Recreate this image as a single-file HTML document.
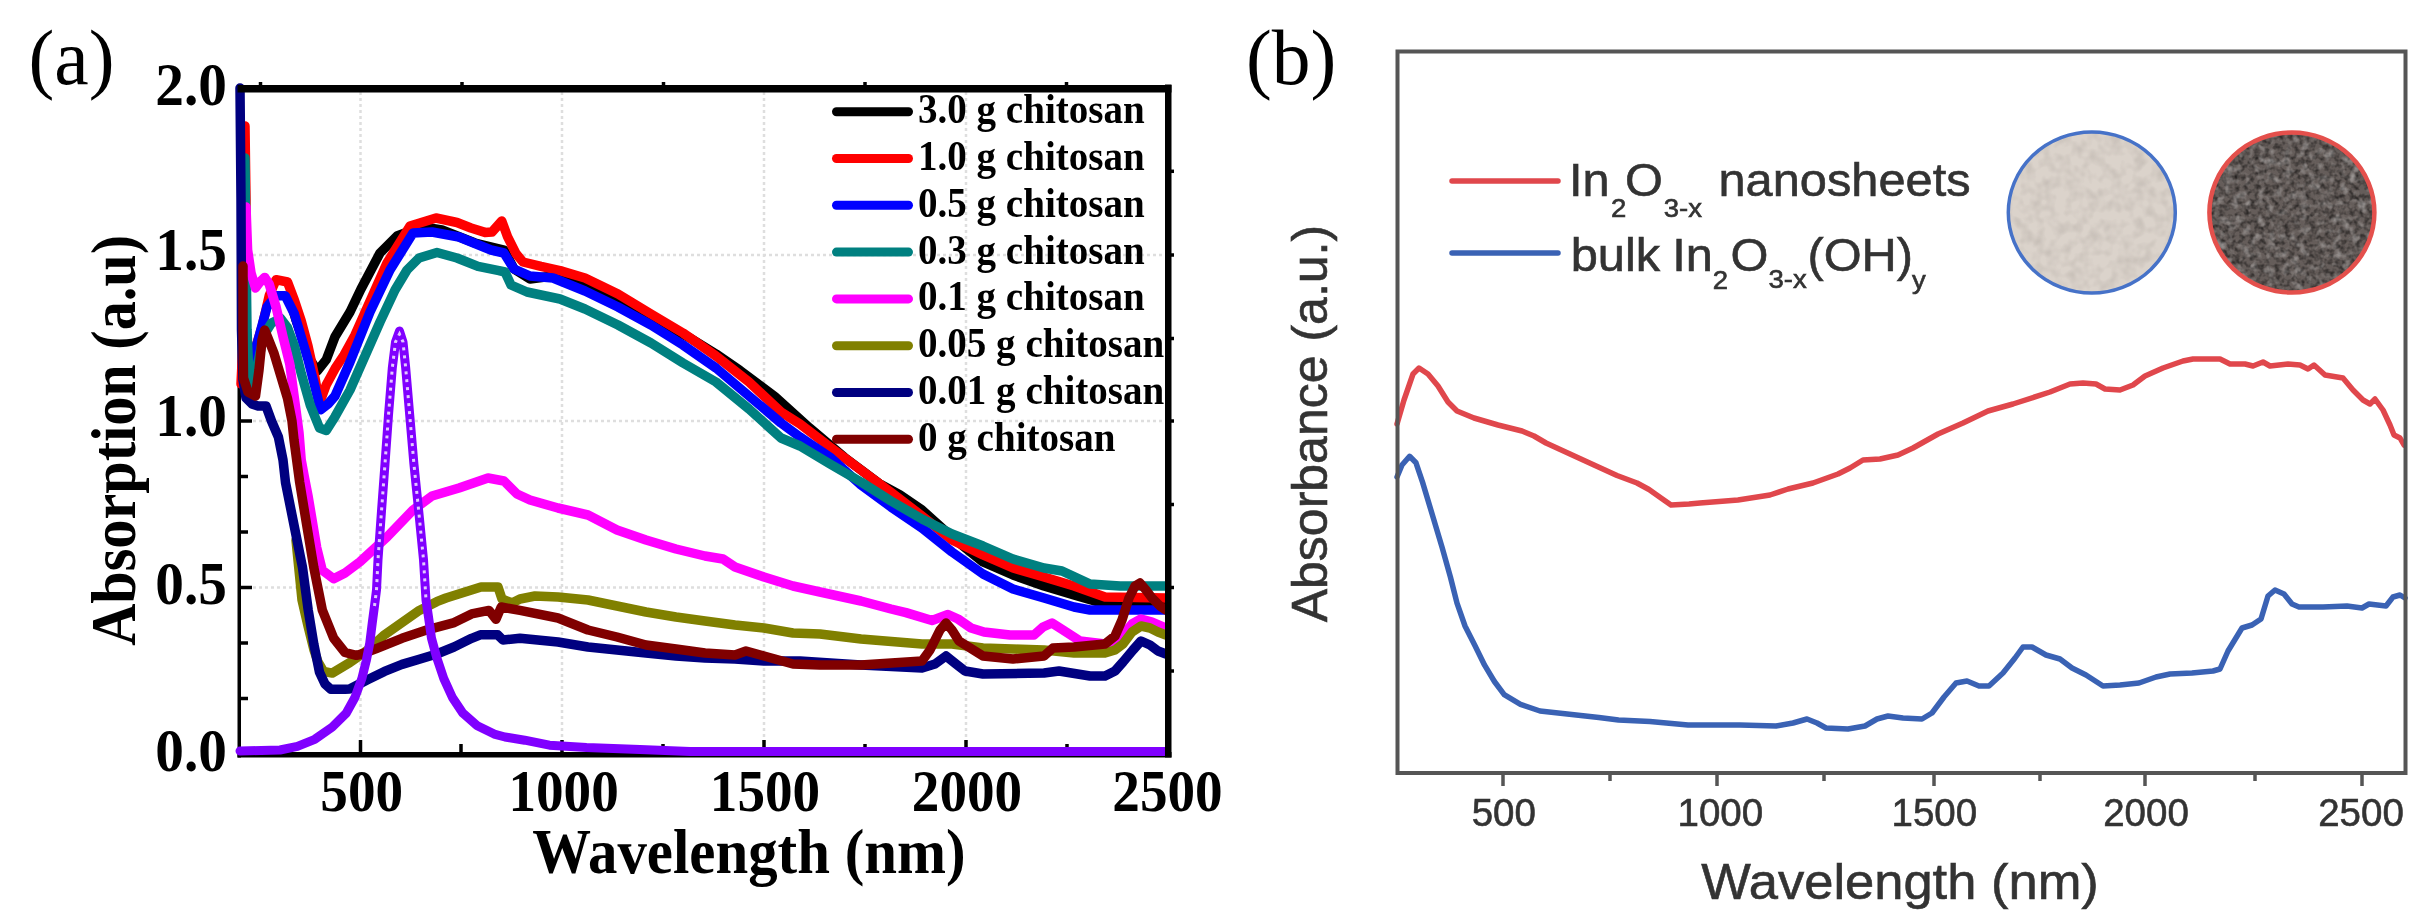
<!DOCTYPE html><html><head><meta charset="utf-8"><title>Absorption spectra</title><style>html,body{margin:0;padding:0;background:#fff;}svg{display:block;filter:blur(0.6px);}</style></head><body><svg width="2429" height="919" viewBox="0 0 2429 919">
<rect x="0" y="0" width="2429" height="919" fill="#fff"/>
<g stroke="#dedede" stroke-width="2.5" stroke-dasharray="3 3" fill="none">
<line x1="360.5" y1="92" x2="360.5" y2="752"/>
<line x1="562" y1="92" x2="562" y2="752"/>
<line x1="764" y1="92" x2="764" y2="752"/>
<line x1="966" y1="92" x2="966" y2="752"/>
<line x1="241" y1="255" x2="1165" y2="255"/>
<line x1="241" y1="421" x2="1165" y2="421"/>
<line x1="241" y1="587.5" x2="1165" y2="587.5"/>
</g>
<g fill="#000">
<rect x="237.5" y="84.5" width="3.5" height="673"/>
<rect x="237.5" y="752" width="934" height="5.5"/>
</g>
<g stroke="#000" stroke-width="3.5">
<line x1="360.5" y1="753" x2="360.5" y2="740"/>
<line x1="562" y1="753" x2="562" y2="740"/>
<line x1="764" y1="753" x2="764" y2="740"/>
<line x1="966" y1="753" x2="966" y2="740"/>
<line x1="461" y1="753" x2="461" y2="744"/>
<line x1="663" y1="753" x2="663" y2="744"/>
<line x1="865" y1="753" x2="865" y2="744"/>
<line x1="1067" y1="753" x2="1067" y2="744"/>
<line x1="239" y1="255" x2="252" y2="255"/>
<line x1="239" y1="421" x2="252" y2="421"/>
<line x1="239" y1="587.5" x2="252" y2="587.5"/>
<line x1="239" y1="143.5" x2="248" y2="143.5"/>
<line x1="239" y1="199.0" x2="248" y2="199.0"/>
<line x1="239" y1="310.0" x2="248" y2="310.0"/>
<line x1="239" y1="365.5" x2="248" y2="365.5"/>
<line x1="239" y1="476.5" x2="248" y2="476.5"/>
<line x1="239" y1="532.0" x2="248" y2="532.0"/>
<line x1="239" y1="643.0" x2="248" y2="643.0"/>
<line x1="239" y1="698.5" x2="248" y2="698.5"/>
</g>
<g fill="none" stroke-width="9.5" stroke-linejoin="round" stroke-linecap="round">
<polyline stroke="#000000" points="290.0,300.0 296.0,320.0 303.0,340.0 310.3,359.6 317.2,371.0 326.3,359.6 335.0,336.8 350.0,312.0 361.0,289.0 380.0,253.0 397.0,236.0 413.0,230.0 423.0,227.0 442.0,230.0 475.0,243.0 504.0,250.0 514.0,269.0 530.0,279.0 553.0,276.0 585.0,286.0 618.0,300.0 651.0,318.0 690.0,338.0 716.0,354.0 740.0,370.5 774.8,396.5 809.6,428.0 844.5,457.5 879.3,483.6 900.0,495.0 922.0,510.0 952.0,537.0 983.0,562.0 1013.0,575.0 1044.0,586.0 1074.0,595.0 1105.0,604.0 1166.0,605.0"/>
<polyline stroke="#ff0000" points="245.0,126.0 246.0,200.0 245.0,300.0 241.0,384.0 248.0,372.0 255.0,350.0 262.4,325.3 269.2,295.7 276.1,279.7 287.5,282.0 294.4,300.2 301.2,320.8 308.0,346.0 315.0,378.0 319.5,403.0 326.3,384.7 335.0,368.7 344.0,355.0 355.0,335.0 367.0,308.0 387.0,263.0 410.0,226.0 436.0,218.0 457.0,222.5 471.0,228.0 485.0,232.4 492.0,232.0 501.8,221.0 507.5,236.7 516.0,253.6 523.0,262.0 541.0,266.4 560.0,270.6 585.0,278.0 618.0,294.0 651.0,314.0 683.0,333.0 716.0,356.0 749.0,382.0 781.0,412.0 800.0,424.0 830.0,447.0 861.0,470.0 892.0,493.0 922.0,516.0 952.0,540.0 983.0,555.0 1013.0,568.0 1044.0,577.0 1074.0,586.0 1105.0,597.0 1166.0,598.0"/>
<polyline stroke="#0000ff" points="244.0,300.0 248.0,350.0 252.0,360.0 257.8,341.3 267.0,307.0 276.1,295.7 285.2,295.7 294.4,314.0 301.2,336.8 308.0,359.6 315.0,387.0 320.6,409.8 328.0,404.0 335.0,396.0 350.0,362.0 370.0,312.0 390.0,270.0 413.0,233.0 432.0,232.0 459.0,237.0 491.0,250.0 504.0,253.0 514.0,269.0 530.0,276.0 553.0,278.0 585.0,291.0 618.0,307.0 651.0,325.0 683.0,345.0 716.0,368.0 749.0,396.0 781.0,423.0 800.0,437.0 831.0,458.0 861.0,485.0 891.0,507.0 922.0,528.0 952.0,552.0 983.0,574.0 1013.0,589.0 1044.0,598.0 1074.0,607.0 1090.0,610.0 1166.0,610.0"/>
<polyline stroke="#008080" points="245.0,158.0 246.0,250.0 247.0,330.0 249.0,378.0 253.0,388.0 258.0,362.0 264.0,335.0 271.5,323.0 280.7,318.5 287.5,327.6 294.4,345.9 301.2,373.3 310.3,405.3 319.5,428.0 326.3,430.4 335.0,416.7 350.0,390.0 365.0,356.0 380.0,322.0 395.0,290.0 407.0,270.0 419.0,258.0 437.0,252.5 457.0,258.0 478.0,266.4 499.0,270.6 505.0,272.0 511.0,285.0 527.0,292.0 560.0,299.0 585.0,309.0 618.0,325.0 651.0,343.0 683.0,363.0 716.0,382.0 749.0,409.0 781.0,438.0 800.0,446.0 830.0,464.0 861.0,482.0 891.0,501.0 922.0,519.0 952.0,534.0 983.0,546.0 1013.0,559.0 1044.0,568.0 1062.0,571.0 1090.0,584.0 1120.0,586.0 1166.0,586.0"/>
<polyline stroke="#ff00ff" points="246.0,207.0 247.6,250.0 251.0,272.8 255.5,288.0 260.0,282.0 264.7,277.4 269.2,284.2 276.1,307.0 283.0,336.8 289.8,364.2 294.4,398.4 299.0,432.6 301.2,459.8 304.0,475.0 308.2,496.7 316.7,547.6 322.3,570.3 333.7,578.8 345.0,573.0 360.0,561.8 387.0,537.0 413.0,510.0 432.0,496.0 459.0,488.0 488.0,478.0 504.0,481.0 517.0,494.0 530.0,500.0 558.0,508.0 588.0,515.0 617.0,530.0 646.0,540.0 676.0,549.0 705.0,556.0 723.0,559.0 735.0,567.0 764.0,577.0 793.0,586.0 820.0,592.0 861.0,601.0 891.0,609.0 906.0,612.6 932.0,620.5 948.0,614.5 958.0,619.0 971.0,628.0 984.0,632.0 1010.0,635.0 1034.0,635.0 1043.0,627.0 1052.0,623.0 1063.0,630.0 1080.0,641.0 1105.0,644.0 1120.0,638.0 1132.0,624.0 1141.0,619.0 1152.0,622.0 1166.0,628.0"/>
<polyline stroke="#808000" points="296.0,540.0 302.0,600.0 308.0,626.0 314.0,650.0 318.0,662.0 323.5,671.4 332.2,673.1 349.7,662.7 367.1,650.5 384.5,634.8 401.9,622.6 419.3,610.4 436.7,601.7 446.0,598.0 481.0,587.0 498.0,587.0 502.0,599.0 512.0,603.0 520.0,599.0 535.0,596.0 558.0,597.0 588.0,600.0 617.0,606.0 646.0,612.0 676.0,617.0 705.0,621.0 735.0,625.0 764.0,628.0 793.0,633.0 820.0,634.0 861.0,639.0 922.0,644.0 952.0,644.0 983.0,648.0 1044.0,650.0 1074.0,653.0 1105.0,653.0 1115.0,650.0 1123.0,644.0 1132.0,632.0 1141.0,626.0 1150.0,628.0 1158.0,632.0 1166.0,635.0"/>
<polyline stroke="#000080" points="240.0,88.0 241.0,200.0 241.5,330.0 243.0,380.0 246.0,398.0 252.0,404.0 258.0,406.0 266.0,406.0 271.5,421.0 278.4,437.0 283.0,460.0 285.5,482.5 294.0,525.0 302.5,567.5 308.2,610.0 313.8,644.0 319.5,672.3 325.0,684.0 330.8,689.3 345.0,689.3 349.7,689.0 367.0,680.0 384.5,671.4 402.0,664.4 419.3,659.2 436.7,654.0 454.0,647.0 471.6,638.3 480.3,634.8 497.7,634.8 502.9,640.0 520.0,638.3 558.0,642.0 588.0,647.0 617.0,650.0 646.0,653.0 676.0,656.0 705.0,658.0 735.0,659.0 764.0,661.0 800.0,661.0 861.0,665.0 922.0,668.0 935.0,664.0 946.0,656.0 956.0,664.0 965.0,671.0 983.0,674.0 1044.0,673.0 1059.0,671.0 1090.0,676.0 1105.0,676.0 1115.0,671.0 1123.0,662.0 1133.0,650.0 1141.0,641.0 1150.0,645.0 1158.0,651.0 1166.0,654.0"/>
<polyline stroke="#800000" points="243.0,266.0 243.0,330.0 243.5,378.0 248.0,392.0 255.5,396.0 259.0,370.0 262.0,340.0 264.7,330.0 268.0,338.0 273.8,352.7 280.7,375.6 287.5,398.4 292.0,421.2 294.0,440.0 299.7,482.5 306.7,525.0 313.8,567.5 322.3,610.0 333.7,638.3 345.0,652.5 356.3,655.3 361.9,654.0 375.8,648.8 401.9,638.3 428.0,629.6 454.2,622.6 471.6,613.9 489.0,610.4 496.0,619.2 501.2,607.0 520.0,610.4 558.0,618.0 588.0,630.0 617.0,637.0 646.0,645.0 676.0,649.0 705.0,653.0 735.0,655.0 746.0,651.0 764.0,656.0 793.0,664.0 820.0,665.0 861.0,665.0 922.0,661.0 930.0,650.0 940.0,630.0 946.0,623.0 952.0,630.0 959.0,641.0 983.0,656.0 1013.0,659.0 1044.0,656.0 1053.0,648.0 1074.0,647.0 1105.0,644.0 1115.0,636.0 1122.0,620.0 1129.0,598.0 1135.0,586.0 1140.0,583.0 1146.0,590.0 1152.0,598.0 1160.0,606.0 1166.0,610.0"/>
<polyline stroke="#8000ff" stroke-width="9" points="240.0,751.0 280.0,750.0 297.4,746.3 314.8,739.3 332.2,727.1 346.2,713.2 354.9,697.5 361.9,678.4 366.2,661.0 369.7,643.5 372.3,622.6 374.5,606.0 376.5,590.0 378.0,559.7 381.5,511.0 385.0,463.8 388.5,415.0 392.3,368.0 395.5,342.0 399.5,331.0 403.0,342.0 405.7,368.0 409.8,416.0 413.9,463.8 418.7,511.0 423.5,559.7 426.0,600.0 428.5,617.0 431.5,638.3 436.7,657.5 443.7,678.4 452.4,697.5 462.9,713.2 476.8,725.4 494.2,734.1 505.0,737.0 524.7,740.2 549.4,745.2 586.5,747.5 640.0,749.5 690.0,751.6 1166.0,751.6"/>
</g>
<polyline fill="none" stroke="#e2c8ff" stroke-width="3" stroke-dasharray="3 5" points="374.5,606.0 376.5,590.0 378.0,559.7 381.5,511.0 385.0,463.8 388.5,415.0 392.3,368.0 395.5,342.0 399.5,334.0 403.0,342.0 405.7,368.0 409.8,416.0 413.9,463.8 418.7,511.0 423.5,559.7 426.0,600.0"/>
<g fill="#000">
<rect x="237.5" y="85" width="934" height="7.5"/>
<rect x="1165" y="84.5" width="6.5" height="673"/>
</g>
<g stroke="#000" stroke-width="3.5">
<line x1="260.5" y1="86" x2="260.5" y2="82"/>
<line x1="462" y1="86" x2="462" y2="82"/>
<line x1="663.5" y1="86" x2="663.5" y2="82"/>
<line x1="865" y1="86" x2="865" y2="82"/>
<line x1="1066.5" y1="86" x2="1066.5" y2="82"/>
<line x1="1170" y1="171.3" x2="1174" y2="171.3"/>
<line x1="1170" y1="255" x2="1174" y2="255"/>
<line x1="1170" y1="338.5" x2="1174" y2="338.5"/>
<line x1="1170" y1="421" x2="1174" y2="421"/>
<line x1="1170" y1="504.5" x2="1174" y2="504.5"/>
<line x1="1170" y1="587.5" x2="1174" y2="587.5"/>
<line x1="1170" y1="671" x2="1174" y2="671"/>
</g>
<g fill="#000">
<text transform="translate(227,105) scale(0.94,1)" text-anchor="end" font-family="Liberation Serif, serif" font-weight="bold" font-size="61" >2.0</text>
<text transform="translate(227,269.5) scale(0.94,1)" text-anchor="end" font-family="Liberation Serif, serif" font-weight="bold" font-size="61" >1.5</text>
<text transform="translate(227,436) scale(0.94,1)" text-anchor="end" font-family="Liberation Serif, serif" font-weight="bold" font-size="61" >1.0</text>
<text transform="translate(227,603.5) scale(0.94,1)" text-anchor="end" font-family="Liberation Serif, serif" font-weight="bold" font-size="61" >0.5</text>
<text transform="translate(227,770.5) scale(0.94,1)" text-anchor="end" font-family="Liberation Serif, serif" font-weight="bold" font-size="61" >0.0</text>
<text transform="translate(361.7,810.5) scale(0.92,1)" text-anchor="middle" font-family="Liberation Serif, serif" font-weight="bold" font-size="60" >500</text>
<text transform="translate(563.6,810.5) scale(0.92,1)" text-anchor="middle" font-family="Liberation Serif, serif" font-weight="bold" font-size="60" >1000</text>
<text transform="translate(765,810.5) scale(0.92,1)" text-anchor="middle" font-family="Liberation Serif, serif" font-weight="bold" font-size="60" >1500</text>
<text transform="translate(967,810.5) scale(0.92,1)" text-anchor="middle" font-family="Liberation Serif, serif" font-weight="bold" font-size="60" >2000</text>
<text transform="translate(1167.5,810.5) scale(0.92,1)" text-anchor="middle" font-family="Liberation Serif, serif" font-weight="bold" font-size="60" >2500</text>
<text transform="translate(749,873) scale(0.92,1)" text-anchor="middle" font-family="Liberation Serif, serif" font-weight="bold" font-size="64" >Wavelength (nm)</text>
<text transform="translate(135,440.3) rotate(-90) scale(0.91,1)" text-anchor="middle" font-family="Liberation Serif, serif" font-weight="bold" font-size="64">Absorption (a.u)</text>
</g>
<text x="28.5" y="84.2" font-family="Liberation Serif, serif" font-size="77.5" fill="#000">(a)</text>
<line x1="836.5" y1="111.7" x2="908.5" y2="111.7" stroke="#000000" stroke-width="9" stroke-linecap="round"/>
<text transform="translate(918,123.2) scale(0.93,1)" text-anchor="start" font-family="Liberation Serif, serif" font-weight="bold" font-size="42" >3.0 g chitosan</text>
<line x1="836.5" y1="158.5" x2="908.5" y2="158.5" stroke="#ff0000" stroke-width="9" stroke-linecap="round"/>
<text transform="translate(918,170.0) scale(0.93,1)" text-anchor="start" font-family="Liberation Serif, serif" font-weight="bold" font-size="42" >1.0 g chitosan</text>
<line x1="836.5" y1="205.3" x2="908.5" y2="205.3" stroke="#0000ff" stroke-width="9" stroke-linecap="round"/>
<text transform="translate(918,216.8) scale(0.93,1)" text-anchor="start" font-family="Liberation Serif, serif" font-weight="bold" font-size="42" >0.5 g chitosan</text>
<line x1="836.5" y1="252.1" x2="908.5" y2="252.1" stroke="#008080" stroke-width="9" stroke-linecap="round"/>
<text transform="translate(918,263.59999999999997) scale(0.93,1)" text-anchor="start" font-family="Liberation Serif, serif" font-weight="bold" font-size="42" >0.3 g chitosan</text>
<line x1="836.5" y1="298.9" x2="908.5" y2="298.9" stroke="#ff00ff" stroke-width="9" stroke-linecap="round"/>
<text transform="translate(918,310.4) scale(0.93,1)" text-anchor="start" font-family="Liberation Serif, serif" font-weight="bold" font-size="42" >0.1 g chitosan</text>
<line x1="836.5" y1="345.7" x2="908.5" y2="345.7" stroke="#808000" stroke-width="9" stroke-linecap="round"/>
<text transform="translate(918,357.2) scale(0.93,1)" text-anchor="start" font-family="Liberation Serif, serif" font-weight="bold" font-size="42" >0.05 g chitosan</text>
<line x1="836.5" y1="392.5" x2="908.5" y2="392.5" stroke="#000080" stroke-width="9" stroke-linecap="round"/>
<text transform="translate(918,403.99999999999994) scale(0.93,1)" text-anchor="start" font-family="Liberation Serif, serif" font-weight="bold" font-size="42" >0.01 g chitosan</text>
<line x1="836.5" y1="439.3" x2="908.5" y2="439.3" stroke="#800000" stroke-width="9" stroke-linecap="round"/>
<text transform="translate(918,450.79999999999995) scale(0.93,1)" text-anchor="start" font-family="Liberation Serif, serif" font-weight="bold" font-size="42" >0 g chitosan</text>
<text x="1246" y="83.5" font-family="Liberation Serif, serif" font-size="77.5" fill="#000">(b)</text>
<g fill="none" stroke-width="5.5" stroke-linejoin="round" stroke-linecap="round">
<polyline stroke="#e0474c" points="1397.0,424.0 1404.0,400.0 1413.0,374.0 1419.0,368.0 1428.0,374.0 1438.0,386.0 1448.0,402.0 1457.0,411.0 1474.0,418.0 1498.0,425.0 1522.0,431.0 1534.0,436.0 1546.0,443.0 1570.0,454.0 1594.0,465.0 1617.0,475.5 1637.0,483.0 1649.0,489.5 1661.0,498.0 1671.0,505.0 1689.0,504.0 1700.0,503.0 1738.0,500.0 1770.0,495.0 1788.0,489.0 1813.0,483.0 1838.0,474.0 1850.0,468.0 1863.0,460.0 1880.0,459.0 1898.0,455.0 1913.0,448.0 1938.0,434.0 1963.0,423.0 1988.0,411.0 2013.0,404.0 2050.0,392.0 2070.0,384.0 2083.0,383.0 2096.0,384.0 2105.0,389.0 2120.0,390.0 2133.0,385.0 2145.0,376.0 2163.0,368.0 2183.0,361.0 2193.0,359.0 2220.0,359.0 2230.0,364.0 2245.0,364.0 2253.0,366.0 2263.0,362.0 2270.0,366.0 2288.0,364.0 2300.0,365.0 2308.0,369.0 2314.0,365.0 2325.0,375.0 2343.0,378.0 2353.0,390.0 2363.0,400.0 2370.0,404.0 2375.0,399.0 2383.0,410.0 2390.0,425.0 2394.0,435.0 2400.0,438.0 2404.0,445.0"/>
<polyline stroke="#3a62b4" points="1397.0,477.0 1402.0,465.0 1409.6,456.3 1416.0,462.8 1422.6,482.4 1432.4,515.0 1442.2,547.7 1450.4,577.0 1457.0,603.2 1465.0,626.0 1474.9,645.6 1484.6,665.2 1494.4,681.5 1504.2,694.6 1520.5,704.4 1540.0,711.0 1569.5,714.2 1598.9,717.4 1618.5,720.0 1650.0,721.5 1688.0,725.0 1740.0,725.0 1776.0,726.0 1793.0,723.0 1807.0,719.0 1817.0,723.0 1826.0,728.0 1848.0,729.0 1865.0,726.0 1877.0,719.0 1888.0,716.0 1903.0,718.0 1922.0,719.0 1932.0,713.0 1944.0,697.0 1956.0,683.0 1967.0,681.0 1979.0,686.0 1989.0,686.0 2003.0,673.0 2015.0,658.0 2023.0,647.0 2032.0,647.0 2046.0,655.0 2060.0,659.0 2072.0,668.0 2086.0,675.0 2103.0,686.0 2120.0,685.0 2139.0,683.0 2156.0,677.0 2170.0,674.0 2192.0,673.0 2213.0,671.0 2220.0,669.0 2228.0,651.0 2242.0,628.0 2252.0,625.0 2261.0,619.0 2268.0,596.0 2275.0,590.0 2284.0,594.0 2292.0,604.0 2299.0,607.0 2323.0,607.0 2347.0,606.0 2362.0,608.0 2369.0,604.0 2386.0,606.0 2393.0,597.0 2400.0,595.0 2405.0,598.0"/>
</g>
<rect x="1397.5" y="51.5" width="1008" height="721.5" fill="none" stroke="#555" stroke-width="4"/>
<g stroke="#555" stroke-width="3.5">
<line x1="1503" y1="773" x2="1503" y2="786"/>
<line x1="1717" y1="773" x2="1717" y2="786"/>
<line x1="1934" y1="773" x2="1934" y2="786"/>
<line x1="2145" y1="773" x2="2145" y2="786"/>
<line x1="2362" y1="773" x2="2362" y2="786"/>
<line x1="1610" y1="773" x2="1610" y2="781"/>
<line x1="1824" y1="773" x2="1824" y2="781"/>
<line x1="2040" y1="773" x2="2040" y2="781"/>
<line x1="2255" y1="773" x2="2255" y2="781"/>
</g>
<g fill="#333" stroke="#333" stroke-width="0.6" font-family="Liberation Sans, Arial, sans-serif">
<text x="1503.8" y="826.3" text-anchor="middle" font-size="38.5">500</text>
<text x="1720.3" y="826.3" text-anchor="middle" font-size="38.5">1000</text>
<text x="1934.3" y="826.3" text-anchor="middle" font-size="38.5">1500</text>
<text x="2146" y="826.3" text-anchor="middle" font-size="38.5">2000</text>
<text x="2361" y="826.3" text-anchor="middle" font-size="38.5">2500</text>
<text transform="translate(1900,898.6) scale(1.05,1)" text-anchor="middle" font-size="50">Wavelength (nm)</text>
<text transform="translate(1327,423.6) rotate(-90)" text-anchor="middle" font-size="50">Absorbance (a.u.)</text>
<line x1="1452" y1="181.1" x2="1558" y2="181.1" stroke="#e0474c" stroke-width="5.5" stroke-linecap="round"/>
<line x1="1452" y1="252.9" x2="1558" y2="252.9" stroke="#3a62b4" stroke-width="5.5" stroke-linecap="round"/>
<text transform="translate(1568.9,196) scale(1.06,1)" font-size="46">In</text>
<text transform="translate(1611,216.5) scale(1.1,1)" font-size="25">2</text>
<text transform="translate(1624.9,196) scale(1.06,1)" font-size="46">O</text>
<text transform="translate(1663.7,216.5) scale(1.1,1)" font-size="25">3-x</text>
<text transform="translate(1718.5,196) scale(1.06,1)" font-size="46">nanosheets</text>
<text transform="translate(1570.7,270.5) scale(1.06,1)" font-size="46">bulk</text>
<text transform="translate(1672.2,270.5) scale(1.06,1)" font-size="46">In</text>
<text transform="translate(1712.7,288.5) scale(1.1,1)" font-size="25">2</text>
<text transform="translate(1730.5,270.5) scale(1.06,1)" font-size="46">O</text>
<text transform="translate(1768.5,288) scale(1.1,1)" font-size="25">3-x</text>
<text transform="translate(1807.4,270.5) scale(1.06,1)" font-size="46">(OH)</text>
<text transform="translate(1912,288.5) scale(1.1,1)" font-size="25">y</text>
</g>
<defs>
<filter id="nd" x="0" y="0" width="100%" height="100%" color-interpolation-filters="sRGB">
<feTurbulence type="fractalNoise" baseFrequency="0.2" numOctaves="2" seed="7" result="t"/>
<feColorMatrix in="t" type="matrix" values="0 0 0 0 0  0 0 0 0 0  0 0 0 0 0  1.3 0 0 0 -0.52" result="a"/>
<feComposite in="a" in2="SourceGraphic" operator="in"/>
</filter>
<filter id="nl" x="0" y="0" width="100%" height="100%" color-interpolation-filters="sRGB">
<feTurbulence type="fractalNoise" baseFrequency="0.12" numOctaves="2" seed="19" result="t"/>
<feColorMatrix in="t" type="matrix" values="0 0 0 0 1  0 0 0 0 1  0 0 0 0 1  0.9 0 0 0 -0.42" result="a"/>
<feComposite in="a" in2="SourceGraphic" operator="in"/>
</filter>
<filter id="nf" x="0" y="0" width="100%" height="100%" color-interpolation-filters="sRGB">
<feTurbulence type="fractalNoise" baseFrequency="0.09" numOctaves="2" seed="4" result="t"/>
<feColorMatrix in="t" type="matrix" values="0 0 0 0 0.45  0 0 0 0 0.42  0 0 0 0 0.4  0.4 0 0 0 -0.16" result="a"/>
<feComposite in="a" in2="SourceGraphic" operator="in"/>
</filter>
</defs>
<ellipse cx="2091.8" cy="212.5" rx="83.5" ry="80.5" fill="#dbd3cb"/>
<ellipse cx="2091.8" cy="212.5" rx="83.5" ry="80.5" fill="#000" filter="url(#nf)"/>
<ellipse cx="2091.8" cy="212.5" rx="83.5" ry="80.5" fill="none" stroke="#4672c8" stroke-width="3.5"/>
<ellipse cx="2291.9" cy="212.5" rx="82.5" ry="80" fill="#655d5a"/>
<ellipse cx="2291.9" cy="212.5" rx="82.5" ry="80" fill="#000" filter="url(#nd)"/>
<ellipse cx="2291.9" cy="212.5" rx="82.5" ry="80" fill="#000" filter="url(#nl)"/>
<ellipse cx="2291.9" cy="212.5" rx="82.5" ry="80" fill="none" stroke="#e4504c" stroke-width="4.5"/>
</svg></body></html>
